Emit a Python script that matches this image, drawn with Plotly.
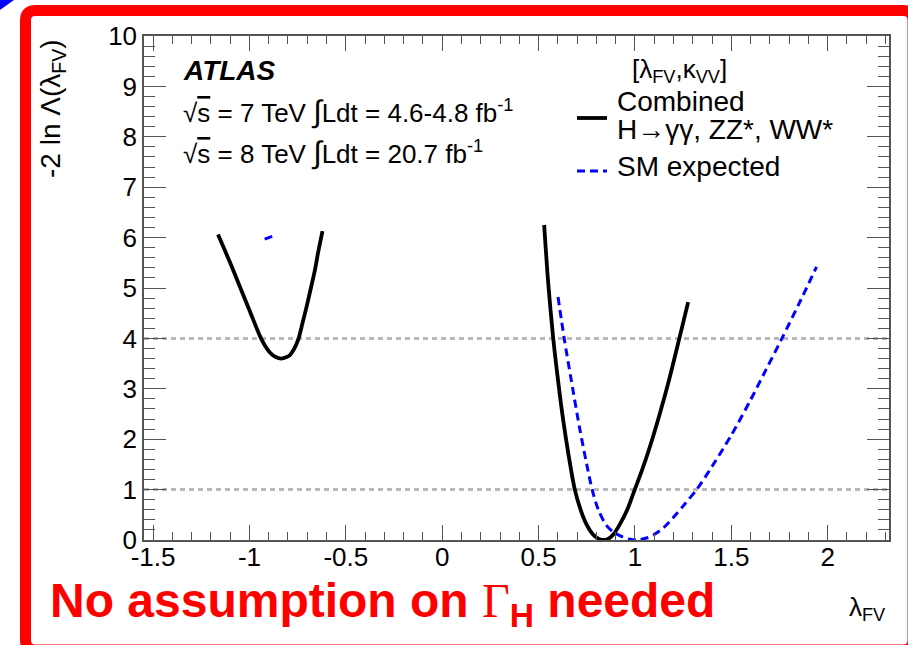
import plotly.graph_objects as go

# ---------------- data ----------------
obs_left_x = [-1.163, -1.10, -1.05, -1.00, -0.946, -0.92, -0.894, -0.864, -0.834, -0.81, -0.79, -0.77, -0.757, -0.745, -0.725, -0.704, -0.68, -0.66, -0.644, -0.621]
obs_left_y = [6.06, 5.50, 5.03, 4.56, 4.05, 3.86, 3.72, 3.63, 3.60, 3.625, 3.67, 3.78, 3.88, 4.00, 4.30, 4.62, 5.02, 5.36, 5.70, 6.13]

obs_right_x = [0.529, 0.55, 0.576, 0.60, 0.624, 0.655, 0.688, 0.72, 0.75, 0.78, 0.81, 0.832, 0.86, 0.89, 0.92, 0.96, 0.999, 1.04, 1.08, 1.13, 1.18, 1.229, 1.276]
obs_right_y = [6.25, 5.10, 4.00, 3.20, 2.48, 1.70, 1.00, 0.58, 0.30, 0.12, 0.025, 0.00, 0.02, 0.12, 0.30, 0.60, 1.00, 1.42, 1.88, 2.52, 3.22, 3.98, 4.72]

exp_left_x = [-0.921, -0.899, -0.877]
exp_left_y = [5.97, 6.00, 6.03]

exp_right_x = [0.601, 0.633, 0.671, 0.714, 0.75, 0.778, 0.81, 0.85, 0.887, 0.93, 0.97, 1.012, 1.06, 1.10, 1.15, 1.20, 1.26, 1.32, 1.40, 1.50, 1.60, 1.68, 1.76, 1.85, 1.942]
exp_right_y = [4.82, 4.00, 3.14, 2.20, 1.50, 1.00, 0.60, 0.30, 0.16, 0.07, 0.02, 0.00, 0.04, 0.11, 0.25, 0.45, 0.72, 1.00, 1.46, 2.08, 2.78, 3.38, 3.98, 4.68, 5.42]

ref_levels = [1, 4]

x_ticks = [-1.5, -1.0, -0.5, 0.0, 0.5, 1.0, 1.5, 2.0]
x_ticktext = ["-1.5", "-1", "-0.5", "0", "0.5", "1", "1.5", "2"]
y_ticks = [0, 1, 2, 3, 4, 5, 6, 7, 8, 9, 10]
y_ticktext = [str(v) for v in y_ticks]

# ---------------- geometry helpers ----------------
W, H = 908, 645
L, R, T, B = 144, 19, 36, 105
PW, PH = W - L - R, H - T - B


def px(x):
    return (x - L) / PW


def py(y):
    return (H - B - y) / PH


FONT = "Liberation Sans, Arial, Helvetica, sans-serif"
AX = "#555555"

fig = go.Figure()

fig.add_trace(go.Scatter(x=obs_left_x, y=obs_left_y, mode="lines", name="Combined",
                         line=dict(color="black", width=3.8, shape="spline", smoothing=0.8), showlegend=False))
fig.add_trace(go.Scatter(x=obs_right_x, y=obs_right_y, mode="lines", name="Combined",
                         line=dict(color="black", width=3.8, shape="spline", smoothing=0.8), showlegend=False))
fig.add_trace(go.Scatter(x=exp_left_x, y=exp_left_y, mode="lines", name="SM expected",
                         line=dict(color="#0000ff", width=3, dash="8px,5px"), showlegend=False))
fig.add_trace(go.Scatter(x=exp_right_x, y=exp_right_y, mode="lines", name="SM expected",
                         line=dict(color="#0000ff", width=3, dash="8px,5px", shape="spline", smoothing=0.8),
                         showlegend=False))

shapes = []
for lv in ref_levels:
    shapes.append(dict(type="line", xref="paper", x0=0, x1=1, yref="y", y0=lv, y1=lv,
                       line=dict(color="#b8b8b8", width=3, dash="5px,4px"), layer="below"))

# legend samples
shapes.append(dict(type="line", xref="paper", yref="paper", x0=px(577), x1=px(607), y0=py(118), y1=py(118),
                   line=dict(color="black", width=3.8)))
shapes.append(dict(type="line", xref="paper", yref="paper", x0=px(577), x1=px(607), y0=py(171), y1=py(171),
                   line=dict(color="#0000ff", width=3, dash="8px,5px")))

# red frame with rounded corners
fx0, fx1, fy0, fy1, rr = 25.5, 913, 10.5, 650, 10
path = (f"M {px(fx0)},{py(fy0+rr)} Q {px(fx0)},{py(fy0)} {px(fx0+rr)},{py(fy0)} "
        f"L {px(fx1-rr)},{py(fy0)} Q {px(fx1)},{py(fy0)} {px(fx1)},{py(fy0+rr)} "
        f"L {px(fx1)},{py(fy1-rr)} Q {px(fx1)},{py(fy1)} {px(fx1-rr)},{py(fy1)} "
        f"L {px(fx0+rr)},{py(fy1)} Q {px(fx0)},{py(fy1)} {px(fx0)},{py(fy1-rr)} Z")
shapes.append(dict(type="path", xref="paper", yref="paper", path=path,
                   line=dict(color="#ff0000", width=11)))
# blue corner
shapes.append(dict(type="path", xref="paper", yref="paper",
                   path=f"M {px(0)},{py(0)} L {px(14)},{py(0)} L {px(0)},{py(10)} Z",
                   fillcolor="#0000ff", line=dict(width=0)))

ann = []


def add_text(x, y, text, size, xanchor="left", yanchor="middle", color="black", angle=0, family=FONT):
    ann.append(dict(x=px(x), y=py(y), xref="paper", yref="paper", text=text, showarrow=False,
                    xanchor=xanchor, yanchor=yanchor, textangle=angle,
                    font=dict(family=family, size=size, color=color)))


INT = "<span style='font-size:31px'>∫</span>"
add_text(181, 71, "<b><i>ATLAS</i></b>", 28)
add_text(181, 111, "√<span style='text-decoration:overline'>s</span> = 7 TeV " + INT + "Ldt = 4.6-4.8 fb<sup>-1</sup>", 26)
add_text(181, 152, "√<span style='text-decoration:overline'>s</span> = 8 TeV " + INT + "Ldt = 20.7 fb<sup>-1</sup>", 26)

add_text(630, 70, "[λ<sub>FV</sub>,κ<sub>VV</sub>]", 26)
add_text(615, 101, "Combined", 28)
add_text(615, 129, "H→γγ, ZZ*, WW*", 28)
add_text(615, 167, "SM expected", 28)

add_text(52, 109, "-2 ln Λ(λ<sub>FV</sub>)", 28, xanchor="center", angle=-90)
add_text(888, 608, "λ<sub>FV</sub>", 26, xanchor="right")

add_text(48, 604, "<b>No assumption on </b><span style='font-family:Liberation Serif,Times New Roman,serif'>Γ</span><sub><b>H</b></sub><b> needed</b>",
         48, color="#ff0000")

axis_common = dict(showline=True, linecolor=AX, linewidth=1.5, mirror="ticks",
                   ticks="inside", tickcolor=AX, tickwidth=1.2,
                   tickfont=dict(family=FONT, size=26, color="black"),
                   showgrid=False, zeroline=False)

fig.update_layout(
    width=W, height=H,
    margin=dict(l=L, r=R, t=T, b=B),
    paper_bgcolor="white", plot_bgcolor="white",
    xaxis=dict(range=[-1.547, 2.318], tickmode="array", tickvals=x_ticks, ticktext=x_ticktext,
               ticklen=15, ticklabelstandoff=-7,
               minor=dict(dtick=0.1, tick0=-1.5, ticklen=8, ticks="inside", tickcolor=AX, tickwidth=1.2),
               **axis_common),
    yaxis=dict(range=[0, 10], tickmode="array", tickvals=y_ticks, ticktext=y_ticktext,
               ticklen=22,
               minor=dict(dtick=0.2, tick0=0, ticklen=11, ticks="inside", tickcolor=AX, tickwidth=1.2),
               **axis_common),
    shapes=shapes,
    annotations=ann,
    showlegend=False,
)

fig.write_html("out.html")
